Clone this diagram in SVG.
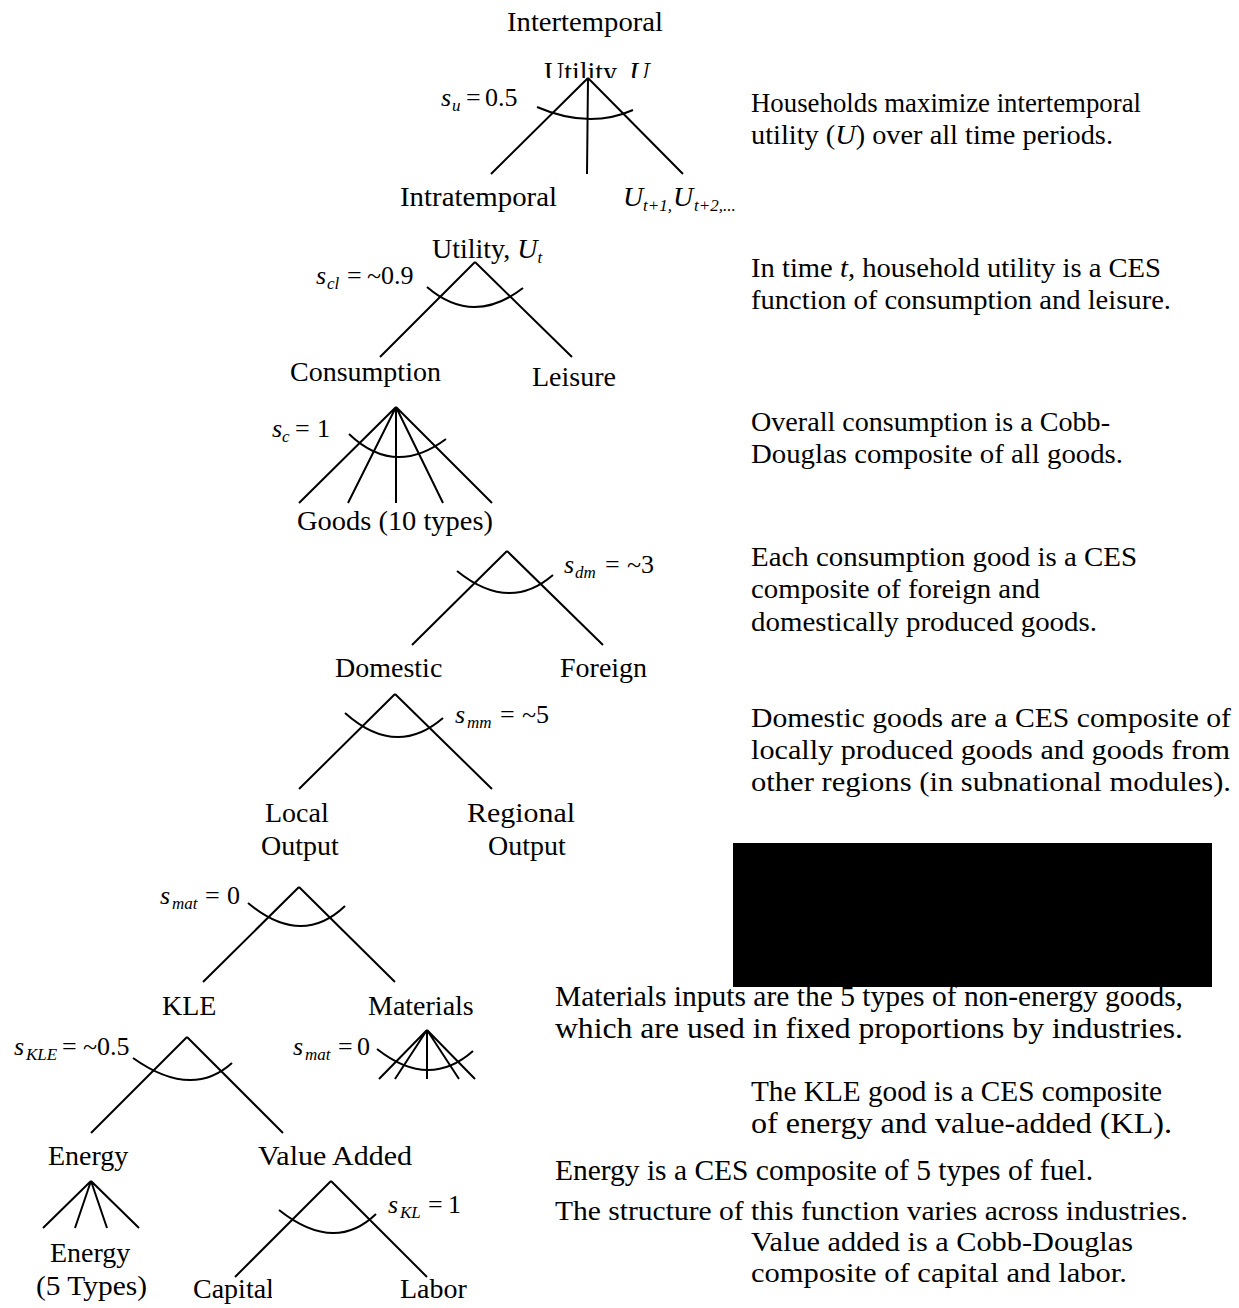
<svg xmlns="http://www.w3.org/2000/svg" width="1239" height="1308" viewBox="0 0 1239 1308">
<defs>
<style>
text{font-family:"Liberation Serif","Times New Roman",serif;fill:#000}
.lbl{font-size:28px}
.desc{font-size:28px}
.desc2{font-size:29px}
.desc3{font-size:28px}
.eq{font-size:26px}
.it{font-style:italic}
.sub{font-size:17px;font-style:italic}
.ln{stroke:#000;stroke-width:2;fill:none}
</style>
<clipPath id="clipU"><rect x="0" y="0" width="1239" height="78"/></clipPath>
<clipPath id="clipI"><rect x="0" y="0" width="663" height="60"/></clipPath>
<clipPath id="clipC"><rect x="0" y="1250" width="272" height="58"/></clipPath>
</defs>
<rect width="1239" height="1308" fill="#fff"/>

<g id="connectors">
<path class="ln" d="M588 78L491 174M588 78L587 174M588 78L683 174"/>
<path class="ln" d="M537 107Q589 129.5 633 110"/>
<path class="ln" d="M475 262L380 357M475 262L572 357"/>
<path class="ln" d="M427 287Q473 326.5 523 288"/>
<path class="ln" d="M396 407L299 503M396 407L348 503M396 407L396 503M396 407L443 503M396 407L492 503"/>
<path class="ln" d="M349 434Q394.5 477.5 446 439"/>
<path class="ln" d="M507 551L412 645M507 551L603 645"/>
<path class="ln" d="M457 571Q509 613 553 575"/>
<path class="ln" d="M395 694L299 789M395 694L492 789"/>
<path class="ln" d="M345 713Q396 758.5 443 718"/>
<path class="ln" d="M299 887L203 982M299 887L395 982"/>
<path class="ln" d="M248 903Q301.5 947.5 345 906"/>
<path class="ln" d="M427 1030L379 1079M427 1030L395 1079M427 1030L427 1079M427 1030L459 1079M427 1030L475 1079"/>
<path class="ln" d="M377 1049Q429 1090 473 1051"/>
<path class="ln" d="M187 1037L91 1133M187 1037L283 1133"/>
<path class="ln" d="M133 1058Q191.5 1099.5 232 1063"/>
<path class="ln" d="M91 1181L43 1228M91 1181L75 1228M91 1181L107 1228M91 1181L139 1228"/>
<path class="ln" d="M331 1181L235 1277M331 1181L427 1277"/>
<path class="ln" d="M279 1210Q334.5 1254 376 1214"/>
</g>

<g id="node-intertemporal">
<text class="lbl" x="507" y="31" textLength="156" lengthAdjust="spacingAndGlyphs" clip-path="url(#clipI)">Intertemporal</text>
<text class="lbl" x="544" y="81" clip-path="url(#clipU)">Utility, <tspan class="it">U</tspan></text>
<text class="eq"><tspan class="it" x="441" y="106">s</tspan><tspan class="sub" x="452" y="111">u</tspan><tspan x="466" y="106">=</tspan><tspan x="485" y="106">0.5</tspan></text>
</g>

<g id="node-intratemporal">
<text class="lbl" x="400" y="206" textLength="157" lengthAdjust="spacingAndGlyphs">Intratemporal</text>
<text class="lbl" x="432" y="258">Utility, <tspan class="it">U</tspan><tspan class="sub" dy="5">t</tspan></text>
<text class="eq"><tspan class="it" x="316" y="284">s</tspan><tspan class="sub" x="327" y="289">cl</tspan><tspan x="347" y="284">=</tspan><tspan x="367" y="284">~0.9</tspan></text>
</g>

<g id="node-future">
<text class="lbl it" x="623" y="206">U</text>
<text class="sub" x="643" y="211">t+1,</text>
<text class="lbl it" x="673" y="206">U</text>
<text class="sub" x="694" y="211">t+2,...</text>
</g>

<g id="node-consumption">
<text class="lbl" x="290" y="381">Consumption</text>
<text class="eq"><tspan class="it" x="272" y="437">s</tspan><tspan class="sub" x="282" y="442">c</tspan><tspan x="295" y="437">=</tspan><tspan x="317" y="437">1</tspan></text>
</g>
<g id="node-leisure"><text class="lbl" x="532" y="386">Leisure</text></g>

<g id="node-goods">
<text class="lbl" x="297" y="530" textLength="196" lengthAdjust="spacingAndGlyphs">Goods (10 types)</text>
<text class="eq"><tspan class="it" x="564" y="573">s</tspan><tspan class="sub" x="575" y="578">dm</tspan><tspan x="605" y="573">=</tspan><tspan x="627" y="573">~3</tspan></text>
</g>

<g id="node-domestic">
<text class="lbl" x="335" y="677">Domestic</text>
<text class="eq"><tspan class="it" x="455" y="723">s</tspan><tspan class="sub" x="467" y="728">mm</tspan><tspan x="500" y="723">=</tspan><tspan x="522" y="723">~5</tspan></text>
</g>
<g id="node-foreign"><text class="lbl" x="560" y="677">Foreign</text></g>

<g id="node-local"><text class="lbl" x="265" y="822">Local</text><text class="lbl" x="261" y="855">Output</text></g>
<g id="node-regional"><text class="lbl" x="467" y="822" textLength="108" lengthAdjust="spacingAndGlyphs">Regional</text><text class="lbl" x="488" y="855">Output</text></g>

<g id="node-output">
<text class="eq"><tspan class="it" x="160" y="904">s</tspan><tspan class="sub" x="172" y="909">mat</tspan><tspan x="205" y="904">=</tspan><tspan x="227" y="904">0</tspan></text>
</g>

<g id="node-kle">
<text class="lbl" x="162" y="1015">KLE</text>
<text class="eq"><tspan class="it" x="14" y="1055">s</tspan><tspan class="sub" x="26" y="1060">KLE</tspan><tspan x="62" y="1055">=</tspan><tspan x="83" y="1055">~0.5</tspan></text>
</g>

<g id="node-materials">
<text class="lbl" x="368" y="1015">Materials</text>
<text class="eq"><tspan class="it" x="293" y="1055">s</tspan><tspan class="sub" x="305" y="1060">mat</tspan><tspan x="338" y="1055">=</tspan><tspan x="357" y="1055">0</tspan></text>
</g>

<g id="node-energy">
<text class="lbl" x="48" y="1165">Energy</text>
</g>
<g id="node-energy-types">
<text class="lbl" x="50" y="1262">Energy</text>
<text class="lbl" x="36" y="1295" textLength="111" lengthAdjust="spacingAndGlyphs">(5 Types)</text>
</g>

<g id="node-value-added">
<text class="lbl" x="258" y="1165" textLength="154" lengthAdjust="spacingAndGlyphs">Value Added</text>
<text class="eq"><tspan class="it" x="388" y="1213">s</tspan><tspan class="sub" x="400" y="1218">KL</tspan><tspan x="428" y="1213">=</tspan><tspan x="448" y="1213">1</tspan></text>
</g>
<g id="node-capital"><text class="lbl" x="193" y="1298" clip-path="url(#clipC)">Capital</text></g>
<g id="node-labor"><text class="lbl" x="400" y="1298">Labor</text></g>

<g id="descriptions">
<text class="desc" x="751" y="112" textLength="390" lengthAdjust="spacingAndGlyphs">Households maximize intertemporal</text>
<text class="desc" x="751" y="144" textLength="362" lengthAdjust="spacingAndGlyphs">utility (<tspan class="it">U</tspan>) over all time periods.</text>
<text class="desc" x="751" y="277" textLength="410" lengthAdjust="spacingAndGlyphs">In time <tspan class="it">t</tspan>, household utility is a CES</text>
<text class="desc" x="751" y="309" textLength="420" lengthAdjust="spacingAndGlyphs">function of consumption and leisure.</text>
<text class="desc" x="751" y="431" textLength="359" lengthAdjust="spacingAndGlyphs">Overall consumption is a Cobb-</text>
<text class="desc" x="751" y="463" textLength="372" lengthAdjust="spacingAndGlyphs">Douglas composite of all goods.</text>
<text class="desc" x="751" y="566" textLength="386" lengthAdjust="spacingAndGlyphs">Each consumption good is a CES</text>
<text class="desc" x="751" y="598" textLength="289" lengthAdjust="spacingAndGlyphs">composite of foreign and</text>
<text class="desc" x="751" y="631" textLength="346" lengthAdjust="spacingAndGlyphs">domestically produced goods.</text>
<text class="desc" x="751" y="727" textLength="480" lengthAdjust="spacingAndGlyphs">Domestic goods are a CES composite of</text>
<text class="desc" x="751" y="759" textLength="479" lengthAdjust="spacingAndGlyphs">locally produced goods and goods from</text>
<text class="desc" x="751" y="791" textLength="480" lengthAdjust="spacingAndGlyphs">other regions (in subnational modules).</text>
<text class="desc2" x="555" y="1006" textLength="628" lengthAdjust="spacingAndGlyphs">Materials inputs are the 5 types of non-energy goods,</text>
<text class="desc2" x="555" y="1038" textLength="628" lengthAdjust="spacingAndGlyphs">which are used in fixed proportions by industries.</text>
<text class="desc2" x="751" y="1101" textLength="411" lengthAdjust="spacingAndGlyphs">The KLE good is a CES composite</text>
<text class="desc2" x="751" y="1133" textLength="421" lengthAdjust="spacingAndGlyphs">of energy and value-added (KL).</text>
<text class="desc2" x="555" y="1180" textLength="538" lengthAdjust="spacingAndGlyphs">Energy is a CES composite of 5 types of fuel.</text>
<text class="desc3" x="555" y="1220" textLength="633" lengthAdjust="spacingAndGlyphs">The structure of this function varies across industries.</text>
<text class="desc3" x="751" y="1251" textLength="382" lengthAdjust="spacingAndGlyphs">Value added is a Cobb-Douglas</text>
<text class="desc3" x="751" y="1282" textLength="376" lengthAdjust="spacingAndGlyphs">composite of capital and labor.</text>
</g>
<rect x="733" y="843" width="479" height="144" fill="#000"/>
</svg>
